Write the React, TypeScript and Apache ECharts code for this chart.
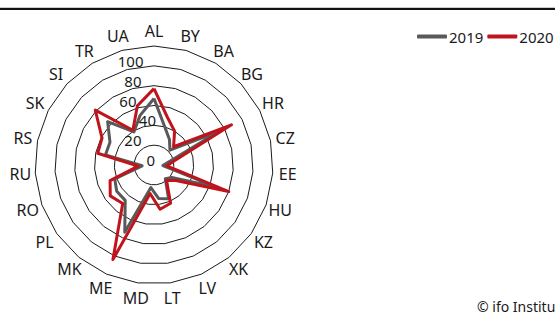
import React, { useEffect, useRef } from 'react';
import * as echarts from 'echarts';

const countries = ['AL', 'BY', 'BA', 'BG', 'HR', 'CZ', 'EE', 'HU', 'KZ', 'XK', 'LV', 'LT', 'MD', 'ME', 'MK', 'PL', 'RO', 'RU', 'RS', 'SK', 'SI', 'TR', 'UA'];
const values2019 = [67, 40, 30, 22, 75, 15, 9, 68, 22, 18, 37, 34, 23, 74, 46, 46, 42, 12, 50, 50, 64, 39, 52];
const values2020 = [77, 50, 40, 27, 88, 21, 13, 80, 27, 20, 42, 45, 29, 104, 50, 54, 47, 16, 58, 59, 81, 41, 62];
const seriesNames = ['2019', '2020'];
const axisMax = 120;
const axisInterval = 20;
const hiddenTick = 120;
const sourceNote = '© ifo Institut';

const FONT = 'Noto Sans';
const GRAY = '#595959';
const RED = '#c0141c';

// horizontal nudges of the radial tick labels
const tickShift: Record<number, number> = { 0: 1, 20: 14.5, 40: 0, 60: 19.5, 80: 14.5, 100: 12.5 };

// ECharts radar runs counter-clockwise; reorder (keeping the first at top) to read clockwise
const clockwise = <T,>(arr: T[]): T[] => [arr[0], ...arr.slice(1).reverse()];

export default function App() {
  const ref = useRef<HTMLDivElement>(null);
  useEffect(() => {
    if (!ref.current) return;
    const chart = echarts.init(ref.current, undefined, { renderer: 'svg' });
    const center = [154, 165];
    const radius = 119;
    const rich: Record<string, any> = {};
    Object.keys(tickShift).forEach((k) => {
      rich['t' + k] = {
        fontFamily: FONT,
        fontSize: 15,
        color: '#1a1a1a',
        padding: [0, tickShift[Number(k)], 0, 0],
      };
    });
    chart.setOption({
      animation: false,
      textStyle: { fontFamily: FONT },
      legend: {
        data: seriesNames,
        left: 417,
        top: 29,
        itemWidth: 30,
        itemHeight: 4,
        itemGap: 4,
        icon: 'roundRect',
        padding: 0,
        textStyle: { fontFamily: FONT, fontSize: 15, color: '#1a1a1a', padding: [0, 0, 0, -3] },
      },
      radar: {
        center,
        radius,
        shape: 'polygon',
        startAngle: 90,
        splitNumber: axisMax / axisInterval,
        nameGap: 15,
        axisName: { color: '#1a1a1a', fontFamily: FONT, fontSize: 16, align: 'center', verticalAlign: 'middle' },
        indicator: clockwise(countries).map((c) => ({ name: c, min: 0, max: axisMax })),
        axisLine: { show: false },
        axisTick: { show: false },
        axisLabel: { show: false },
        splitArea: { show: false },
        splitLine: { lineStyle: { color: '#1a1a1a', width: 1 } },
      },
      polar: { center, radius },
      angleAxis: { show: false, startAngle: 90, min: 0, max: 360 },
      radiusAxis: {
        min: 0,
        max: axisMax,
        interval: axisInterval,
        axisLine: { show: false },
        axisTick: { show: false },
        splitLine: { show: false },
        z: 10,
        axisLabel: {
          fontFamily: FONT,
          fontSize: 15,
          color: '#1a1a1a',
          margin: -2,
          verticalAlign: 'bottom',
          lineHeight: 10,
          rich,
          formatter: (v: number) => (v === hiddenTick ? '' : `{t${v}|${v}}`),
        },
      },
      series: [
        {
          type: 'radar',
          symbol: 'none',
          data: [
            {
              name: seriesNames[0],
              value: clockwise(values2019),
              itemStyle: { color: GRAY },
              lineStyle: { color: GRAY, width: 3 },
            },
            {
              name: seriesNames[1],
              value: clockwise(values2020),
              itemStyle: { color: RED },
              lineStyle: { color: RED, width: 3 },
            },
          ],
        },
      ],
      graphic: [
        { type: 'rect', shape: { x: 0, y: 7, width: 555, height: 1 }, style: { fill: '#cccccc' } },
        { type: 'rect', shape: { x: 0, y: 8, width: 555, height: 2 }, style: { fill: '#111111' } },
        {
          type: 'text',
          x: 477,
          y: 299,
          style: { text: sourceNote, fontFamily: FONT, fontSize: 14, fill: '#1a1a1a', textVerticalAlign: 'top' },
        },
      ],
    });
    return () => chart.dispose();
  }, []);
  return <div ref={ref} style={{ position: 'absolute', left: 0, top: 0, width: 555, height: 313 }} />;
}
